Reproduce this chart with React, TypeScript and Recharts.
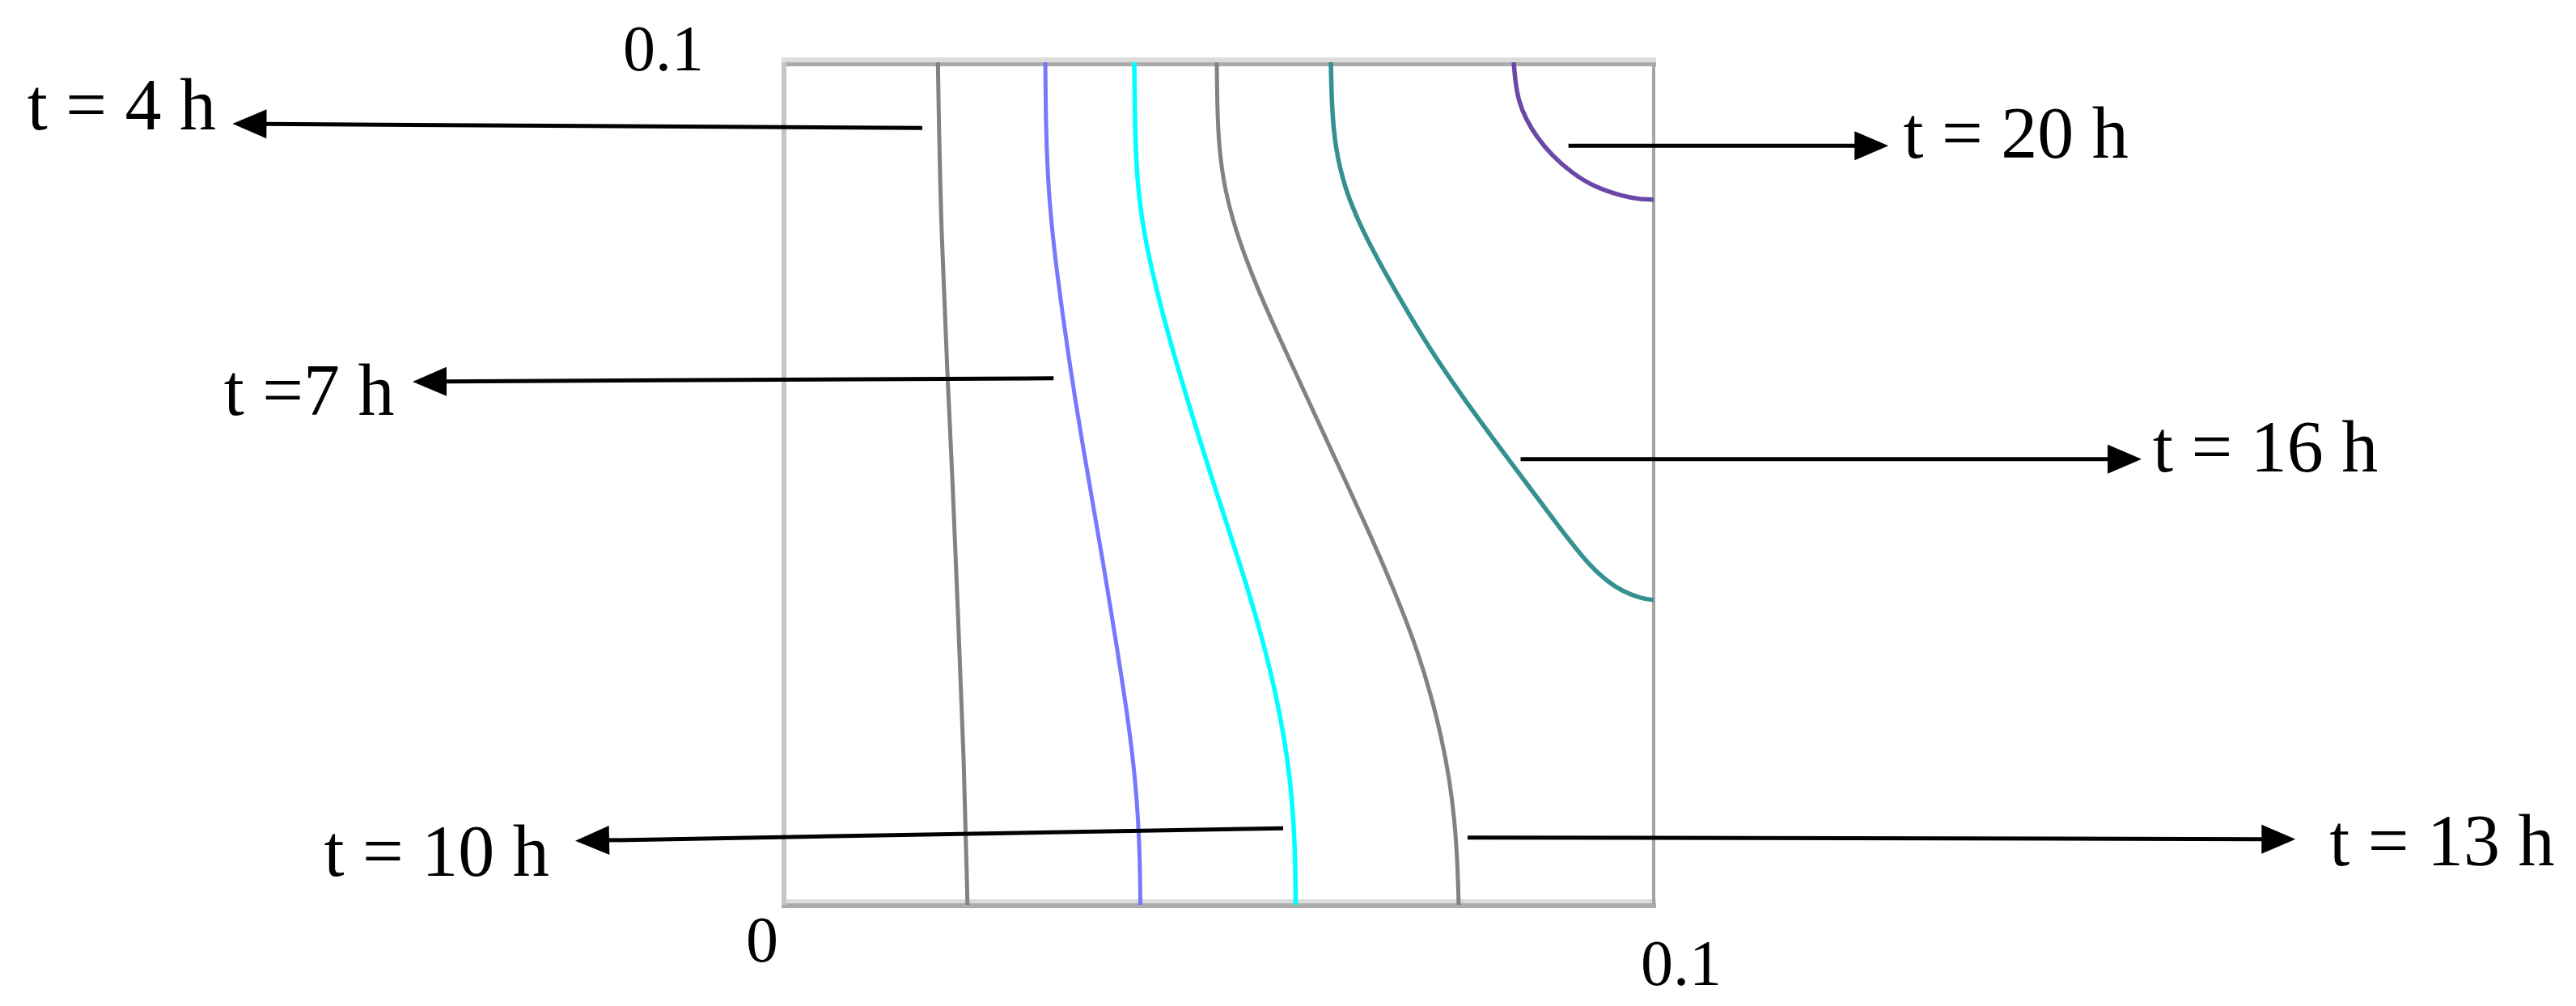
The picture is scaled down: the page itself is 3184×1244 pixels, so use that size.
import React from 'react';
import { LineChart, Line, XAxis, YAxis, ReferenceLine, ReferenceDot } from 'recharts';

const yLevels = [0.1, 0.095, 0.09, 0.085, 0.08, 0.075, 0.07, 0.065, 0.06, 0.055, 0.05, 0.045, 0.04, 0.035, 0.03, 0.025, 0.02, 0.015, 0.01, 0.005, 0];

// x position (m) of each iso-line at those heights
const x7h = [0.03005, 0.03009, 0.03019, 0.03042, 0.03084, 0.0314, 0.03205, 0.03274, 0.03349, 0.03428, 0.03512, 0.03595, 0.03679, 0.03758, 0.03837, 0.03912, 0.03981, 0.04037, 0.04074, 0.04093, 0.04098];
const x10h = [0.04028, 0.04033, 0.04042, 0.0407, 0.04135, 0.04237, 0.04358, 0.04493, 0.04637, 0.04786, 0.0494, 0.05098, 0.05256, 0.05405, 0.0554, 0.05656, 0.05749, 0.05819, 0.0586, 0.05879, 0.05884];
const x13h = [0.04977, 0.04981, 0.05, 0.05065, 0.05195, 0.05372, 0.05577, 0.058, 0.06023, 0.06247, 0.0647, 0.06693, 0.06907, 0.07107, 0.07288, 0.07437, 0.07558, 0.07651, 0.07712, 0.07744, 0.07758];

// lines that were read at their own heights, [x, y]
const t4h = [[0.0177, 0.1], [0.018, 0.0818], [0.0188, 0.0627], [0.0194, 0.0501], [0.02, 0.0345], [0.0207, 0.0175], [0.0211, 0]];
const t16h = [[0.06288, 0.1], [0.06298, 0.095], [0.06335, 0.09], [0.06447, 0.085], [0.06651, 0.08], [0.06912, 0.075], [0.07191, 0.07], [0.07488, 0.065], [0.07823, 0.06], [0.08177, 0.055], [0.0854, 0.05], [0.08902, 0.045], [0.09274, 0.04], [0.09581, 0.0375], [0.09749, 0.0368], [0.0987, 0.03637], [0.1, 0.03618]];
const t20h = [[0.08391, 0.1], [0.08409, 0.0977], [0.08447, 0.09539], [0.0853, 0.09328], [0.08651, 0.09117], [0.08828, 0.08896], [0.0906, 0.08685], [0.0933, 0.08512], [0.09656, 0.08407], [0.09823, 0.08378], [0.1, 0.08369]];

const xTicks = [0, 0.1];
const yTicks = [0.1];

// callouts: line start on the curve, arrow tip, label anchor (data units)
const callouts = [
  { label: 't = 4 h', from: [0.0159, 0.0922], to: [-0.0634, 0.0927], at: [-0.0653, 0.092] },
  { label: 't =7 h', from: [0.031, 0.0625], to: [-0.0427, 0.0621], at: [-0.0448, 0.0582] },
  { label: 't = 10 h', from: [0.0574, 0.0091], to: [-0.024, 0.0076], at: [-0.027, 0.0035] },
  { label: 't = 13 h', from: [0.0786, 0.008], to: [0.1738, 0.0078], at: [0.1777, 0.0047] },
  { label: 't = 16 h', from: [0.0847, 0.0529], to: [0.1561, 0.0529], at: [0.1574, 0.0514] },
  { label: 't = 20 h', from: [0.0902, 0.0901], to: [0.127, 0.0901], at: [0.1287, 0.0887] },
];

const toPts = (arr: number[][]) => arr.map(([x, y]) => ({ x, y }));
const onLevels = (xs: number[]) => xs.map((x, i) => ({ x, y: yLevels[i] }));

const series = [
  { name: '4h', data: toPts(t4h), color: '#828282', width: 5 },
  { name: '7h', data: onLevels(x7h), color: '#7878ff', width: 5 },
  { name: '10h', data: onLevels(x10h), color: '#00ffff', width: 5.5 },
  { name: '13h', data: onLevels(x13h), color: '#828282', width: 5 },
  { name: '16h', data: toPts(t16h), color: '#359090', width: 5.5 },
  { name: '20h', data: toPts(t20h), color: '#6b48a8', width: 5.5 },
];

const FONT = '"Liberation Serif", "Times New Roman", serif';

const Arrow = (props: any) => {
  const { x1, y1, x2, y2 } = props;
  const ang = Math.atan2(y2 - y1, x2 - x1);
  const len = 42;
  const half = 18;
  const bx = x2 - len * Math.cos(ang);
  const by = y2 - len * Math.sin(ang);
  const px = -Math.sin(ang) * half;
  const py = Math.cos(ang) * half;
  return (
    <g>
      <line x1={x1} y1={y1} x2={bx + 2 * Math.cos(ang)} y2={by + 2 * Math.sin(ang)} stroke="#000" strokeWidth={5} />
      <polygon points={`${x2},${y2} ${bx + px},${by + py} ${bx - px},${by - py}`} fill="#000" />
    </g>
  );
};

const XTick = (props: any) => {
  const { x, y, payload } = props;
  if (payload.value === 0) {
    return <text x={x - 7} y={y + 70} textAnchor="end" fontFamily={FONT} fontSize={80} fill="#000">0</text>;
  }
  return <text x={x - 16} y={y + 99} textAnchor="start" fontFamily={FONT} fontSize={80} fill="#000">0.1</text>;
};

const YTick = (props: any) => {
  const { x, y } = props;
  return <text x={x - 99} y={y + 10} textAnchor="end" fontFamily={FONT} fontSize={80} fill="#000">0.1</text>;
};

export default function App() {
  return (
    <div style={{ position: 'absolute', left: 0, top: 0, background: '#fff' }}>
      <LineChart width={3184} height={1244} margin={{ top: 77, right: 1140, bottom: 5, left: 769 }}>
        <XAxis type="number" dataKey="x" domain={[0, 0.1]} ticks={xTicks} height={120}
          axisLine={false} tickLine={false} tickSize={0} tickMargin={0} tick={<XTick />} />
        <YAxis type="number" dataKey="y" domain={[0, 0.1]} ticks={yTicks} width={200}
          axisLine={false} tickLine={false} tickSize={0} tickMargin={0} tick={<YTick />} />

        {/* frame */}
        <ReferenceLine y={0.1} shape={(p: any) => (
          <g>
            <rect x={p.x1 - 3} y={p.y1 - 6} width={p.x2 - p.x1 + 6} height={6} fill="#dcdcdc" />
            <rect x={p.x1 - 3} y={p.y1} width={p.x2 - p.x1 + 6} height={5} fill="#ababab" />
          </g>
        )} />
        <ReferenceLine y={0} shape={(p: any) => (
          <g>
            <rect x={p.x1 - 3} y={p.y1 - 7} width={p.x2 - p.x1 + 6} height={5} fill="#dcdcdc" />
            <rect x={p.x1 - 3} y={p.y1 - 2} width={p.x2 - p.x1 + 6} height={6} fill="#ababab" />
          </g>
        )} />
        <ReferenceLine x={0} stroke="#c4c4c4" strokeWidth={6} />
        <ReferenceLine x={0.1} stroke="#a6a6a6" strokeWidth={4} />

        {series.map((s) => (
          <Line key={s.name} data={s.data} dataKey="y" type="basis" stroke={s.color}
            strokeWidth={s.width} dot={false} activeDot={false} isAnimationActive={false} />
        ))}

        {callouts.map((c) => (
          <ReferenceLine key={c.label + 'a'} ifOverflow="visible"
            segment={[{ x: c.from[0], y: c.from[1] }, { x: c.to[0], y: c.to[1] }]} shape={<Arrow />} />
        ))}
        {callouts.map((c) => (
          <ReferenceDot key={c.label + 't'} x={c.at[0]} y={c.at[1]} ifOverflow="visible"
            shape={(p: any) => (
              <text x={p.cx} y={p.cy} textAnchor={c.to[0] < c.from[0] ? 'end' : 'start'}
                fontFamily={FONT} fontSize={90} fill="#000">{c.label}</text>
            )} />
        ))}
      </LineChart>
    </div>
  );
}
